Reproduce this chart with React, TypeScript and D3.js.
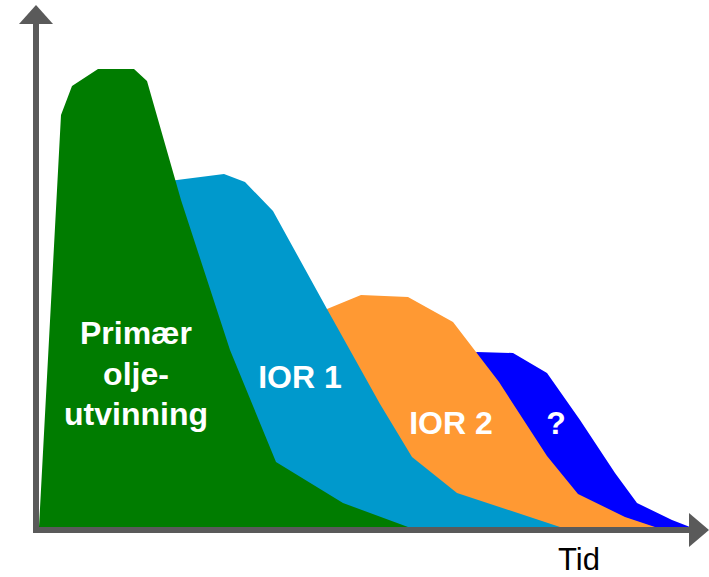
import React from "react";
import * as d3 from "d3";

// Time (x) and production (y) values for each recovery stage
const primaryT = [0, 2.2, 3.3, 5.9, 9.5, 10.8, 14.2, 19.1, 23.7, 30.4, 36.9];
const primaryV = [0, 41.2, 44.1, 45.8, 45.8, 44.6, 32.7, 17.7, 6.5, 2.4, 0];

const ior1T = [12.1, 12.1, 13.8, 18.5, 20.6, 23.4, 28.8, 34.1, 37.3, 41.8, 52.1];
const ior1V = [0, 34.5, 34.7, 35.3, 34.5, 31.6, 21.8, 12.3, 7.0, 3.4, 0];

const ior2T = [27.1, 27.1, 28.8, 32.2, 36.9, 41.4, 46.0, 50.8, 53.9, 58.6, 61.6];
const ior2V = [0, 21.5, 21.8, 23.2, 23.0, 20.5, 14.5, 7.1, 3.3, 1.0, 0];

const unknownT = [43.1, 43.1, 43.8, 47.4, 50.8, 54.1, 57.6, 59.8, 63.3, 65.1];
const unknownV = [0, 17.2, 17.5, 17.4, 15.4, 10.7, 5.4, 2.4, 0.7, 0];

const seriesColors = ["#0000FF", "#FF9933", "#0099CC", "#007C00"];
const xAxisLabel = "Tid";

const W = 709;
const H = 577;

export default function App() {
  const x = d3.scaleLinear().domain([0, 65.1]).range([39, 690]);
  const y = d3.scaleLinear().domain([0, 46]).range([527, 67]);

  const area = d3
    .area<[number, number]>()
    .x((d) => x(d[0]))
    .y0(y(0))
    .y1((d) => y(d[1]))
    .curve(d3.curveLinear);

  const zip = (t: number[], v: number[]) => t.map((tt, i) => [tt, v[i]] as [number, number]);

  // back to front
  const layers = [
    zip(unknownT, unknownV),
    zip(ior2T, ior2V),
    zip(ior1T, ior1V),
    zip(primaryT, primaryV),
  ];

  const axisColor = "#5A5A5A";
  const x0 = 36;
  const yBase = 530;

  const labelStyle: React.CSSProperties = {
    fontFamily: "'Liberation Sans', Arial, sans-serif",
    fontWeight: "bold",
    fontSize: 32,
    fill: "#FFFFFF",
  };

  return (
    <svg
      width={W}
      height={H}
      style={{ position: "absolute", left: 0, top: 0, display: "block", background: "#fff" }}
    >
      {layers.map((d, i) => (
        <path key={i} d={area(d) || ""} fill={seriesColors[i]} />
      ))}

      {/* axes */}
      <line x1={x0} y1={yBase + 3} x2={x0} y2={22} stroke={axisColor} strokeWidth={6} />
      <polygon points={`${x0 - 17},24 ${x0 + 17},24 ${x0},5`} fill={axisColor} />
      <line x1={x0 - 3} y1={yBase} x2={691} y2={yBase} stroke={axisColor} strokeWidth={6} />
      <polygon points={`689,${yBase - 17} 689,${yBase + 17} 709,${yBase}`} fill={axisColor} />

      {/* labels */}
      <text x={136} y={344} textAnchor="middle" style={labelStyle}>Primær</text>
      <text x={136} y={385} textAnchor="middle" style={labelStyle}>olje-</text>
      <text x={136} y={425} textAnchor="middle" style={labelStyle}>utvinning</text>
      <text x={300} y={388} textAnchor="middle" style={labelStyle}>IOR 1</text>
      <text x={451} y={434} textAnchor="middle" style={labelStyle}>IOR 2</text>
      <text x={556} y={434} textAnchor="middle" style={labelStyle}>?</text>

      <text
        x={579}
        y={570}
        textAnchor="middle"
        style={{ fontFamily: "'Liberation Sans', Arial, sans-serif", fontSize: 31, fill: "#000" }}
      >
        {xAxisLabel}
      </text>
    </svg>
  );
}
